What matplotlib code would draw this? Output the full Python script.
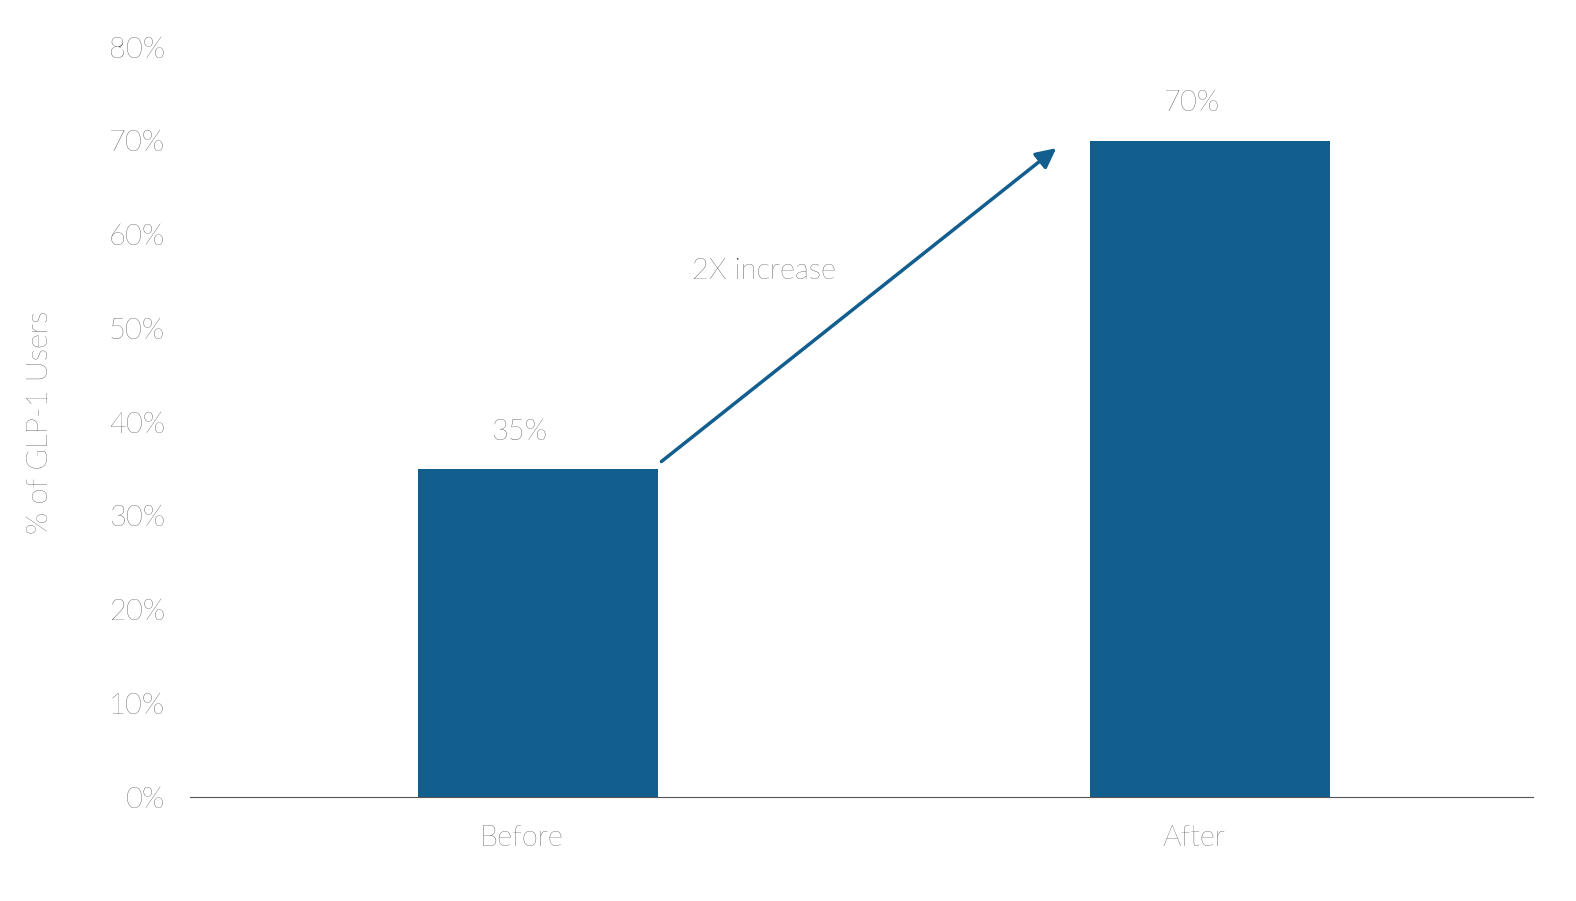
import matplotlib
matplotlib.use("Agg")
import matplotlib.pyplot as plt

categories = ["Before", "After"]
values = [35, 70]
labels = ["35%", "70%"]
yticks = [0, 10, 20, 30, 40, 50, 60, 70, 80]

color = "#115E8F"
plt.rcParams['font.family'] = ['Lato', 'DejaVu Sans']
fig = plt.figure(figsize=(15.76, 9.01), dpi=100)
ax = fig.add_axes([0.1206, 0.1154, 0.8521, 0.8324])
x = list(range(len(categories)))
ax.bar(x, values, width=0.357, color=color)
ax.set_xlim(-0.518, 1.48)
ax.set_ylim(0, 80)
ax.set_yticks(yticks)
ax.set_yticklabels([f"{t}%" for t in yticks], fontsize=21, fontweight='light', color="#222222")
ax.set_xticks([xi - 0.025 for xi in x])
ax.set_xticklabels(categories, fontsize=21, fontweight='light', color="#222222")
ax.tick_params(length=0, pad=18)
ax.tick_params(axis='x', pad=20)
for s in ["top", "right", "left"]:
    ax.spines[s].set_visible(False)
ax.spines["bottom"].set_color("#555555")
ax.set_ylabel("% of GLP-1 Users", fontsize=21, fontweight='light', labelpad=40, color="#222222")
for xi, v, l in zip(x, values, labels):
    ax.text(xi - 0.028, v + 2.6, l, ha='center', va='bottom', fontsize=21, fontweight='light', color="#222222")
ax.annotate("", xy=(0.774, 69.4), xytext=(0.18, 35.6),
            arrowprops=dict(arrowstyle="-|>,head_length=1.2,head_width=0.6", color=color, lw=2.5))
ax.text(0.336, 56.1, "2X increase", ha='center', va='center', fontsize=21, fontweight='light', color="#222222")
fig.savefig("out.png", dpi=100)
